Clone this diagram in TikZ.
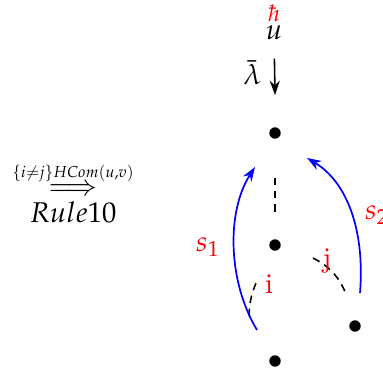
\documentclass[tikz,border=0pt]{standalone}
\usepackage{amsmath,amssymb}
\usepackage{mathpazo}
\usepackage{xcolor}
\usepackage{tikz}
\usetikzlibrary{arrows.meta,positioning}
\tikzset{
  vert/.style  = {circle, fill=black, inner sep=0pt, minimum size=4pt},
  tag/.style   = {text=red, inner sep=1pt},
  mv/.style    = {-{Stealth[length=5pt,width=3.5pt]}, draw=blue, line width=0.6pt},
  dsh/.style   = {dash pattern=on 2.6pt off 2pt, line width=0.55pt},
  down/.style  = {-{Stealth[length=5pt,width=3.5pt]}, line width=0.55pt},
}
\newcommand{\rulecond}{\mbox{\fontsize{7.3}{8}\selectfont$\scriptstyle\{i\neq j\}HCom(u,v)$}}
\begin{document}
\begin{tikzpicture}[x=0.35pt,y=-0.35pt]
  \useasboundingbox (0,0) rectangle (383,375);

  % rule on the left
  \node (arr) at (73,179) {$\overset{\rulecond}{\Longrightarrow}$};
  \node[below=-5pt of arr] (rule) {$Rule10$};

  % head of the stack
  \node[tag, font=\footnotesize] (hb) at (274,13) {$\hbar$};
  \node (u) at (274,33) {$u$};
  \coordinate (lamtip) at (275,95);
  \draw[down, shorten <=3pt] (u) -- node[left=1pt] {$\bar{\lambda}$} (lamtip);

  % vertices
  \node[vert] (top)  at (275,133) {};
  \node[vert] (mid)  at (275,245) {};
  \node[vert] (rdot) at (355,326) {};
  \node[vert] (bot)  at (275,361) {};

  \draw[dsh, shorten <=9.5pt, shorten >=12.7pt] (mid) -- (top);

  \coordinate (i1) at (249,316);
  \coordinate (i2) at (256,283);
  \draw[dsh] (i1) to[bend left=10] (i2);
  \coordinate (j1) at (313,258);
  \coordinate (j2) at (346,294);
  \draw[dsh] (j1) to[bend left=20] (j2);

  % moves
  \coordinate (s1a) at (257,330);
  \coordinate (s1b) at (255,167);
  \coordinate (s2a) at (360,293);
  \coordinate (s2b) at (307,158);
  \draw[mv] (s1a) .. controls (228,282) and (226,212) .. (s1b);
  \draw[mv] (s2a) .. controls (365,230) and (347,182) .. (s2b);

  \node[tag] (s1) at (208,247) {$s_1$};
  \node[tag] (s2) at (377,215) {$s_2$};
  \node[tag] (li) at (269,284) {i};
  \node[tag] (lj) at (327,261) {j};
\end{tikzpicture}
\end{document}
